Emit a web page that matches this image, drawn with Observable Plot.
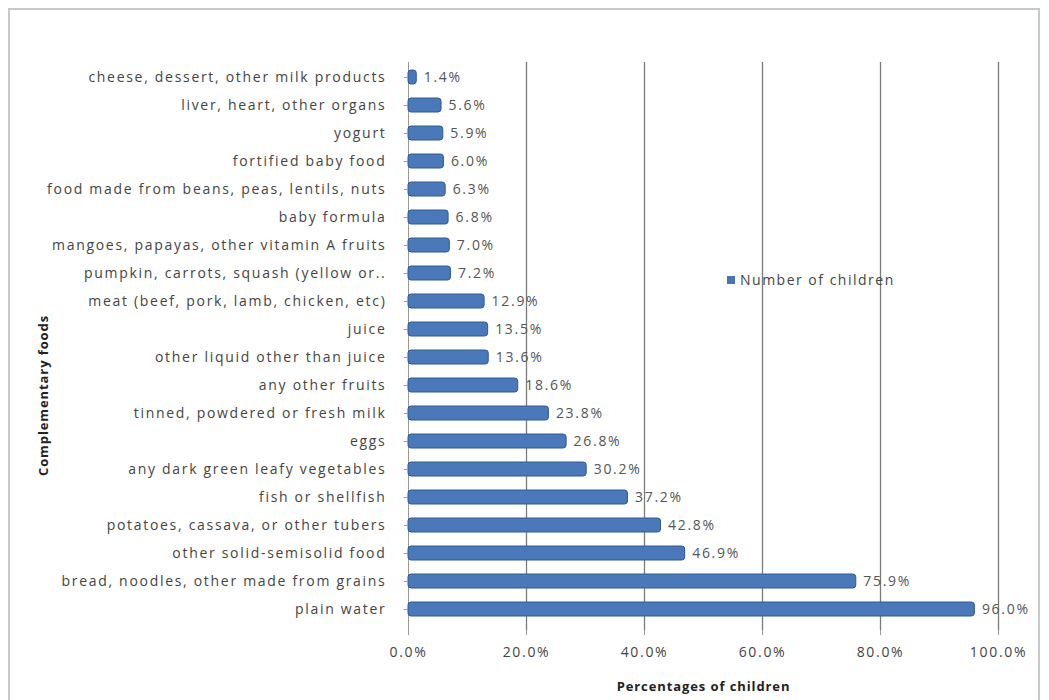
<!DOCTYPE html>
<html>
<head>
<meta charset="utf-8">
<script src="https://cdn.jsdelivr.net/npm/d3@7"></script>
<script src="https://cdn.jsdelivr.net/npm/@observablehq/plot@0.6"></script>
<style>
  body { margin: 0; background: #fff; font-family: "Open Sans", sans-serif; }
  #wrap { position: relative; width: 1049px; height: 700px; overflow: hidden; }
  #border { position: absolute; left: 8px; top: 8px; width: 1032px; height: 700px; border: 2px solid #c8c8c8; box-sizing: border-box; pointer-events: none; }
  #legend { position: absolute; left: 727px; top: 270px; font-size: 14px; letter-spacing: 1.5px; color: #444; display: flex; align-items: center; gap: 5px; }
  #legend span.sw { width: 8px; height: 8px; background: #4a76b4; display: inline-block; }
  svg text { letter-spacing: 1.7px; }
</style>
</head>
<body>
<div id="wrap">
  <div id="chart"></div>
  <div id="border"></div>
  <div id="legend"><span class="sw"></span><span>Number of children</span></div>
</div>
<script>
const foods = [
  "cheese, dessert, other milk products",
  "liver, heart, other organs",
  "yogurt",
  "fortified baby food",
  "food made from beans, peas, lentils, nuts",
  "baby formula",
  "mangoes, papayas, other vitamin A fruits",
  "pumpkin, carrots, squash (yellow or..",
  "meat (beef, pork, lamb, chicken, etc)",
  "juice",
  "other liquid other than juice",
  "any other fruits",
  "tinned, powdered or fresh milk",
  "eggs",
  "any dark green leafy vegetables",
  "fish or shellfish",
  "potatoes, cassava, or other tubers",
  "other solid-semisolid food",
  "bread, noodles, other made from grains",
  "plain water"
];
const percents = [1.4, 5.6, 5.9, 6.0, 6.3, 6.8, 7.0, 7.2, 12.9, 13.5, 13.6, 18.6, 23.8, 26.8, 30.2, 37.2, 42.8, 46.9, 75.9, 96.0];
const xTicks = [0, 0.2, 0.4, 0.6, 0.8, 1.0];
const seriesName = "Number of children";

const data = foods.map((f, i) => ({food: f, value: percents[i] / 100}));
const fmt = d3.format(".1%");

const chart = Plot.plot({
  width: 1049,
  height: 700,
  marginLeft: 408,
  marginRight: 51,
  marginTop: 56,
  marginBottom: 70,
  style: {fontFamily: "Open Sans, sans-serif", fontSize: "14px", color: "#444", background: "transparent"},
  x: {domain: [0, 1], ticks: xTicks, tickFormat: fmt, label: "Percentages of children", labelAnchor: "center", labelArrow: "none"},
  y: {domain: foods, padding: 0.5, round: false, label: "Complementary foods", labelAnchor: "center", labelArrow: "none"},
  marks: [
    Plot.gridX(xTicks.slice(1), {stroke: "#7a7a7a", strokeOpacity: 1, strokeWidth: 1.3, insetTop: 6}),
    Plot.ruleX([0], {stroke: "#999", insetTop: 6}),
    Plot.ruleY([0], {frameAnchor: "bottom", stroke: "#aaa"}),
    Plot.barX(data, {x: "value", y: "food", fill: "#4a78b8", stroke: "#2f5a95", strokeWidth: 1, rx: 3}),
    Plot.text(data, {x: "value", y: "food", text: d => fmt(d.value), dx: 7, textAnchor: "start", fill: "#555", fontSize: 14}),
    Plot.axisX({ticks: xTicks, tickFormat: fmt, tickSize: 5, tickPadding: 12, fontSize: 14, label: "Percentages of children", labelOffset: 60, labelAnchor: "center", labelArrow: "none", stroke: "#999"}),
    Plot.axisY({tickSize: 4, tickPadding: 18, fontSize: 14, label: "Complementary foods", labelOffset: 370, labelAnchor: "center", labelArrow: "none", stroke: "#999"})
  ]
});
chart.querySelectorAll("g[aria-label='x-axis label'] text, g[aria-label='y-axis label'] text").forEach(t => {
  t.setAttribute("font-weight", "bold");
  t.setAttribute("fill", "#222");
  t.setAttribute("font-size", "13");
  t.style.letterSpacing = "0.9px";
});
const yl = chart.querySelector("g[aria-label='y-axis label']");
if (yl) {
  const prev = yl.getAttribute("transform") || "";
  yl.setAttribute("transform", (prev + " translate(0,52)").trim());
}
document.getElementById("chart").append(chart);
</script>
</body>
</html>
